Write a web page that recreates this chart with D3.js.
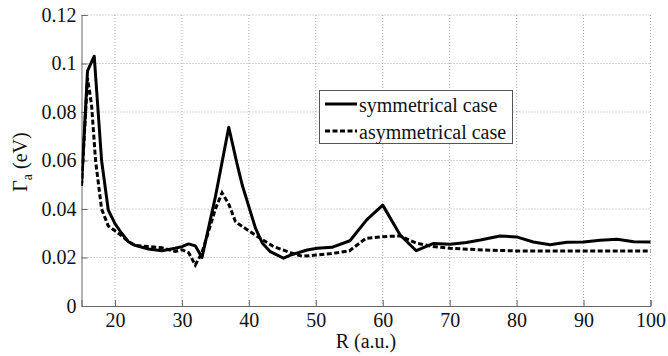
<!DOCTYPE html>
<html><head><meta charset="utf-8">
<script src="https://cdn.jsdelivr.net/npm/d3@7"></script>
<style>body{margin:0;background:#fff}svg{display:block}svg text{font-family:"Liberation Serif","Times New Roman",Times,serif !important}</style>
</head><body><svg id="c" width="668" height="356"></svg>
<script>
const symR = [15,15.9,16.9,18,19,20,21,22,23,25,27,29,30,31,32,33,35,37,38.2,39,40,41,42,43.2,45.2,46.2,48.7,50.2,52.4,55.1,57.6,60,62.6,65,67.6,70.1,72.5,74.6,77.5,80,82.5,85,87.5,90,92.5,95,97.5,100];
const symV = [0.0495,0.097,0.103,0.060,0.0396,0.034,0.030,0.0265,0.0250,0.0235,0.0228,0.0238,0.0245,0.0256,0.0248,0.0200,0.045,0.0737,0.059,0.050,0.041,0.032,0.026,0.0224,0.0197,0.0210,0.0231,0.0238,0.0242,0.0269,0.0355,0.0416,0.0293,0.0228,0.0258,0.0255,0.0262,0.0272,0.0289,0.0285,0.0264,0.0253,0.0263,0.0264,0.0271,0.0275,0.0265,0.0264];
const asymR = [15,15.9,16.5,17.1,18,19,20,21,22,23,25,27,29,30,31,32,33,35,36,37,38,38.7,40,41.7,43.7,46.2,48,50,52,55,57.5,60,62.6,65,67.5,70,75,80,85,90,95,100];
const asymV = [0.0495,0.094,0.083,0.060,0.040,0.033,0.031,0.029,0.0265,0.025,0.0245,0.024,0.0225,0.0232,0.022,0.0169,0.022,0.040,0.0467,0.042,0.0348,0.0334,0.031,0.0279,0.0245,0.022,0.0205,0.021,0.0215,0.0227,0.0279,0.0286,0.0289,0.0259,0.0245,0.0238,0.0231,0.0227,0.0227,0.0227,0.0227,0.0227];
const xTicks = [20,30,40,50,60,70,80,90,100];
const yTicks = [0,0.02,0.04,0.06,0.08,0.1,0.12];
const seriesNames = ["symmetrical case","asymmetrical case"];

const svg = d3.select("#c");
const L=81.5,R=650.5,T=15,B=306;
const FS=20;
const x = d3.scaleLinear().domain([15,100]).range([L,R]);
const y = d3.scaleLinear().domain([0,0.12]).range([B,T]);

const g = svg.append("g");
g.selectAll(".vg").data(xTicks).join("line").attr("x1",d=>x(d)).attr("x2",d=>x(d)).attr("y1",T).attr("y2",B)
 .attr("stroke","#aaa").attr("stroke-width",1).attr("stroke-dasharray","1,2");
g.selectAll(".hg").data(yTicks.slice(1)).join("line").attr("y1",d=>y(d)).attr("y2",d=>y(d)).attr("x1",L).attr("x2",R)
 .attr("stroke","#aaa").attr("stroke-width",1).attr("stroke-dasharray","1,2");

const xa = svg.append("g").attr("transform",`translate(0,${B})`)
 .call(d3.axisBottom(x).tickValues(xTicks).tickSize(-6).tickPadding(7).tickFormat(d3.format("d")));
const ya = svg.append("g").attr("transform",`translate(${L},0)`)
 .call(d3.axisLeft(y).tickValues(yTicks).tickSize(-6).tickPadding(5).tickFormat(d=>d===0?"0":String(+d.toFixed(2))));
[xa,ya].forEach(a=>{a.attr("font-family",null);a.select(".domain").attr("stroke","#666");a.selectAll(".tick line").attr("stroke","#666");
 a.selectAll("text").attr("font-size",FS).attr("fill","#111");});

const line = d3.line().x(d=>x(d[0])).y(d=>y(d[1]));
svg.append("clipPath").attr("id","cp").append("rect").attr("x",L).attr("y",T-5).attr("width",R-L+1).attr("height",B-T+5);
svg.append("path").datum(asymR.map((r,i)=>[r,asymV[i]])).attr("d",line).attr("fill","none")
 .attr("stroke","#000").attr("stroke-width",3).attr("stroke-dasharray","5,2.5").attr("clip-path","url(#cp)");
svg.append("path").datum(symR.map((r,i)=>[r,symV[i]])).attr("d",line).attr("fill","none")
 .attr("stroke","#000").attr("stroke-width",3).attr("stroke-linejoin","round").attr("clip-path","url(#cp)");

const lg = svg.append("g");
lg.append("rect").attr("x",319.5).attr("y",90.5).attr("width",193).attr("height",53).attr("fill","#fff").attr("stroke","#555");
seriesNames.forEach((n,i)=>{
  const yy = 104 + i*27;
  lg.append("line").attr("x1",325).attr("x2",357).attr("y1",yy).attr("y2",yy).attr("stroke","#000").attr("stroke-width",3)
    .attr("stroke-dasharray",i===1?"5,2.5":null);
  lg.append("text").attr("x",359).attr("y",yy+7.5).attr("font-size",FS).attr("fill","#111").text(n);
});

svg.append("text").attr("x",(L+R)/2).attr("y",348).attr("text-anchor","middle").attr("font-size",FS).attr("fill","#111").text("R (a.u.)");
const yl = svg.append("text").attr("transform",`translate(27,162) rotate(-90)`).attr("text-anchor","middle").attr("font-size",FS).attr("fill","#111");
yl.append("tspan").text("Γ");
yl.append("tspan").attr("font-size",14).attr("dy",5).text("a");
yl.append("tspan").attr("dy",-5).text(" (eV)");
</script></body></html>
